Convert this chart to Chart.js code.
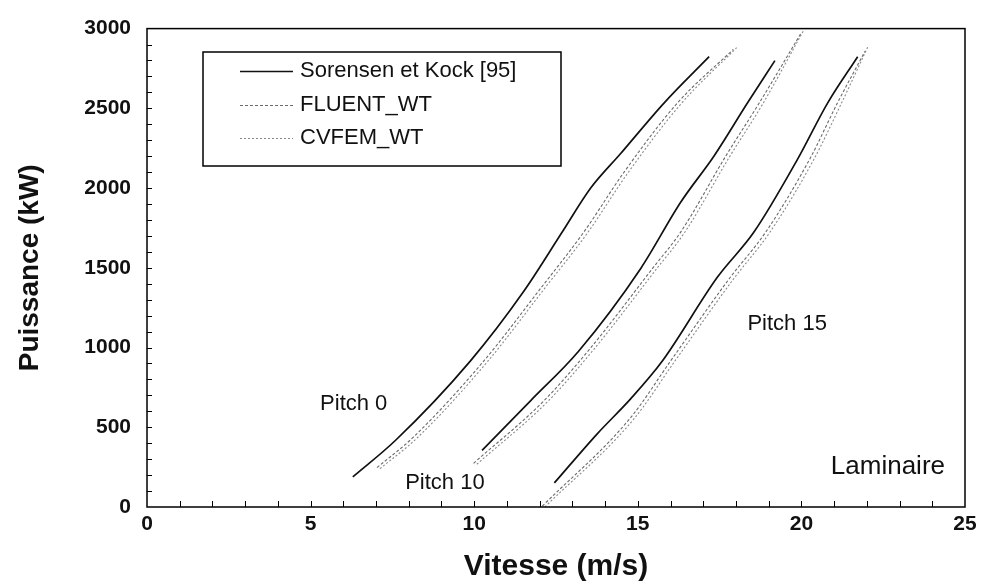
<!DOCTYPE html>
<html>
<head>
<meta charset="utf-8">
<script src="https://cdn.jsdelivr.net/npm/chart.js@4.4.1/dist/chart.umd.min.js"></script>
<style>
    html, body { margin: 0; padding: 0; background: #fff; }
</style>
</head>
<body>
<canvas id="puissance" width="982" height="587"></canvas>
<script>
// courbes de puissance : [vitesse (m/s), puissance (kW)]
var sorensenP0 = [[6.29, 189], [7.59, 417], [9.88, 915], [11.51, 1351], [12.69, 1724], [13.56, 2000], [14.47, 2215], [15.80, 2533], [17.18, 2824]];
var sorensenP10 = [[10.24, 355], [11.72, 666], [13.19, 977], [15.09, 1496], [16.31, 1911], [17.33, 2201], [18.35, 2533], [19.19, 2799]];
var sorensenP15 = [[12.45, 151], [13.76, 459], [14.78, 678], [15.75, 915], [17.43, 1440], [18.55, 1724], [19.88, 2180], [20.80, 2533], [21.72, 2824]];

var fluentP0 = [[7.03, 247], [8.14, 438], [10.29, 915], [12.03, 1371], [13.35, 1724], [14.57, 2097], [16.21, 2533], [17.92, 2870]];
var fluentP10 = [[9.98, 274], [12.13, 666], [13.56, 998], [15.45, 1496], [16.31, 1724], [17.69, 2201], [18.71, 2533], [20.00, 2975]];
var fluentP15 = [[12.08, 5], [14.78, 560], [16.00, 915], [17.80, 1433], [18.91, 1724], [20.25, 2180], [21.10, 2533], [21.95, 2860]];

var cvfemP0 = [[7.12, 240], [8.25, 432], [10.40, 910], [12.13, 1365], [13.46, 1718], [14.68, 2090], [16.32, 2528], [18.02, 2880]];
var cvfemP10 = [[10.08, 268], [12.24, 660], [13.67, 992], [15.56, 1490], [16.42, 1718], [17.80, 2195], [18.82, 2528], [20.06, 2986]];
var cvfemP15 = [[12.16, 0], [14.88, 552], [16.11, 908], [17.91, 1426], [19.02, 1718], [20.36, 2172], [21.21, 2526], [22.04, 2890]];

var series = ["Sorensen et Kock [95]", "FLUENT_WT", "CVFEM_WT"];
var yTicks = [0, 500, 1000, 1500, 2000, 2500, 3000];
var xTicks = [0, 5, 10, 15, 20, 25];

var police = "'Liberation Sans', Arial, sans-serif";

var styleSerie = [
    { color: "#111", width: 1.7, dash: [] },
    { color: "#6a6a6a", width: 1.1, dash: [3, 2] },
    { color: "#8a8a8a", width: 1.1, dash: [2, 2] }
];

function courbe(label, points, s) {
    return {
        label: label,
        data: points.map(function (p) { return { x: p[0], y: p[1] }; }),
        borderColor: styleSerie[s].color,
        borderWidth: styleSerie[s].width,
        borderDash: styleSerie[s].dash,
        pointRadius: 0,
        cubicInterpolationMode: "monotone",
        fill: false
    };
}

// cadre, petites graduations, textes et légende
var cadre = {
    id: "cadre",
    afterDatasetsDraw: function (chart) {
        var ctx = chart.ctx;
        var a = chart.chartArea;
        var sx = chart.scales.x;
        var sy = chart.scales.y;
        ctx.save();

        ctx.strokeStyle = "#000";
        ctx.lineWidth = 1.5;
        ctx.strokeRect(a.left, a.top, a.right - a.left, a.bottom - a.top);

        ctx.lineWidth = 1;
        ctx.beginPath();
        for (var v = 1; v < 25; v++) {
            var px = Math.round(sx.getPixelForValue(v)) + 0.5;
            ctx.moveTo(px, a.bottom);
            ctx.lineTo(px, a.bottom - 6);
        }
        for (var p = 100; p < 3000; p += 100) {
            var py = Math.round(sy.getPixelForValue(p)) + 0.5;
            ctx.moveTo(a.left, py);
            ctx.lineTo(a.left + 5, py);
        }
        ctx.stroke();

        ctx.fillStyle = "#111";
        ctx.textAlign = "left";
        ctx.textBaseline = "middle";
        ctx.font = "22px " + police;
        ctx.fillText("Pitch 0", sx.getPixelForValue(5.29), sy.getPixelForValue(647));
        ctx.fillText("Pitch 10", sx.getPixelForValue(7.89), sy.getPixelForValue(149));
        ctx.fillText("Pitch 15", sx.getPixelForValue(18.35), sy.getPixelForValue(1148));
        ctx.font = "26px " + police;
        ctx.fillText("Laminaire", sx.getPixelForValue(20.9), sy.getPixelForValue(255));

        // légende
        ctx.fillStyle = "#fff";
        ctx.fillRect(203, 52, 358, 114);
        ctx.strokeStyle = "#000";
        ctx.lineWidth = 1.5;
        ctx.strokeRect(203, 52, 358, 114);
        var lignes = [71, 105, 138];
        ctx.font = "22px " + police;
        for (var i = 0; i < series.length; i++) {
            ctx.strokeStyle = styleSerie[i].color;
            ctx.lineWidth = styleSerie[i].width;
            ctx.setLineDash(styleSerie[i].dash);
            ctx.beginPath();
            ctx.moveTo(240, lignes[i] + 0.5);
            ctx.lineTo(293, lignes[i] + 0.5);
            ctx.stroke();
            ctx.setLineDash([]);
            ctx.fillStyle = "#111";
            ctx.fillText(series[i], 300, lignes[i]);
        }
        ctx.restore();
    }
};

new Chart(document.getElementById("puissance").getContext("2d"), {
    type: "line",
    data: {
        datasets: [
            courbe(series[0], sorensenP0, 0),
            courbe(series[1], fluentP0, 1),
            courbe(series[2], cvfemP0, 2),
            courbe(series[0], sorensenP10, 0),
            courbe(series[1], fluentP10, 1),
            courbe(series[2], cvfemP10, 2),
            courbe(series[0], sorensenP15, 0),
            courbe(series[1], fluentP15, 1),
            courbe(series[2], cvfemP15, 2)
        ]
    },
    options: {
        responsive: false,
        animation: false,
        layout: { padding: { top: 23, right: 17, left: 0, bottom: 0 } },
        plugins: {
            legend: { display: false },
            tooltip: { enabled: false }
        },
        scales: {
            x: {
                type: "linear",
                min: 0,
                max: 25,
                afterBuildTicks: function (scale) {
                    scale.ticks = xTicks.map(function (v) { return { value: v }; });
                },
                afterFit: function (scale) { scale.height = 80; },
                grid: { display: false, drawTicks: false },
                border: { display: false },
                ticks: {
                    padding: 5,
                    color: "#111",
                    callback: function (v) { return String(v); },
                    font: { family: police, size: 21, weight: "bold" }
                },
                title: {
                    display: true,
                    text: "Vitesse (m/s)",
                    color: "#111",
                    padding: { top: 2, bottom: 2 },
                    font: { family: police, size: 30, weight: "bold" }
                }
            },
            y: {
                min: 0,
                max: 3000,
                afterBuildTicks: function (scale) {
                    scale.ticks = yTicks.map(function (v) { return { value: v }; });
                },
                afterFit: function (scale) { scale.width = 147; },
                grid: { display: false, drawTicks: false },
                border: { display: false },
                ticks: {
                    padding: 16,
                    color: "#111",
                    callback: function (v) { return String(v); },
                    font: { family: police, size: 21, weight: "bold" }
                },
                title: {
                    display: true,
                    text: "Puissance (kW)",
                    color: "#111",
                    padding: { top: 13, bottom: 13 },
                    font: { family: police, size: 28, weight: "bold" }
                }
            }
        }
    },
    plugins: [cadre]
});
</script>
</body>
</html>
